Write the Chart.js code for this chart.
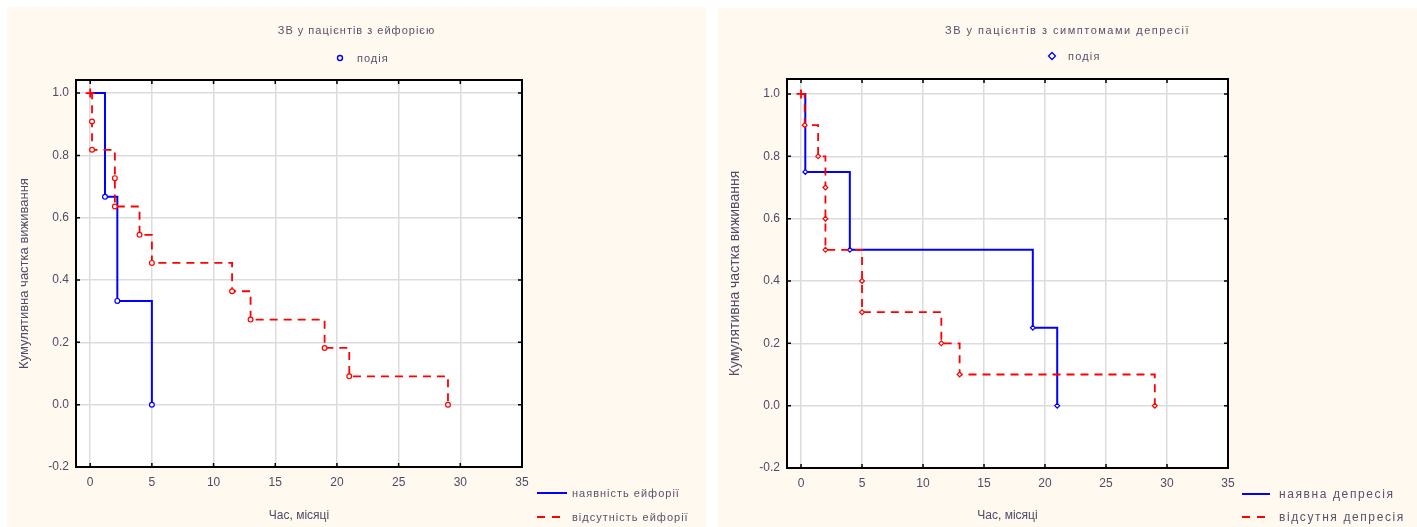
<!DOCTYPE html>
<html>
<head>
<meta charset="utf-8">
<script src="https://cdn.jsdelivr.net/npm/chart.js@4.4.1/dist/chart.umd.min.js"></script>
<style>
  body { margin: 0; background: #fff; width: 1417px; height: 527px; overflow: hidden;
         font-family: "Liberation Sans", Arial, sans-serif; }
  .panel { position: absolute; background: #fff9ef; }
  .panel canvas { position: absolute; left: 0; top: 0; }
  .txt { position: absolute; color: #55526a; white-space: nowrap; line-height: 14px; }
  .center { left: 0; right: 0; text-align: center; }
  .key { position: absolute; display: flex; align-items: center; }
  .key svg { display: block; }
</style>
</head>
<body>

<div class="panel" id="panelLeft" style="left:7px; top:7px; width:699px; height:520px;">
  <canvas id="chartLeft" width="699" height="520"></canvas>
  <div class="txt center" id="titleLeft" style="top:16px; font-size:11px; letter-spacing:1px;"></div>
  <div class="key" style="left:328px; top:44px;">
    <svg width="10" height="10"><circle cx="5" cy="5" r="2.5" fill="#fff" stroke="#0000ff" stroke-width="1.4"/></svg>
    <span class="txt" id="eventLeft" style="position:static; margin-left:12px; font-size:11px; letter-spacing:1px;"></span>
  </div>
  <div class="key" style="left:530px; top:479px;">
    <svg width="30" height="4"><line x1="0" y1="2" x2="30" y2="2" stroke="#0000ff" stroke-width="2"/></svg>
    <span class="txt" id="legLeft0" style="position:static; margin-left:5px; font-size:11px; letter-spacing:1px;"></span>
  </div>
  <div class="key" style="left:530px; top:503px;">
    <svg width="30" height="4"><line x1="0" y1="2" x2="30" y2="2" stroke="#ff0000" stroke-width="2" stroke-dasharray="8 7"/></svg>
    <span class="txt" id="legLeft1" style="position:static; margin-left:5px; font-size:11px; letter-spacing:1px;"></span>
  </div>
</div>

<div class="panel" id="panelRight" style="left:718px; top:8px; width:699px; height:519px;">
  <canvas id="chartRight" width="699" height="519"></canvas>
  <div class="txt center" id="titleRight" style="top:15px; font-size:11px; letter-spacing:1.5px;"></div>
  <div class="key" style="left:329px; top:41px;">
    <svg width="10" height="10"><polygon points="5,1.5 8.5,5 5,8.5 1.5,5" fill="#fff" stroke="#0000ff" stroke-width="1.3"/></svg>
    <span class="txt" id="eventRight" style="position:static; margin-left:11px; font-size:11px; letter-spacing:1.2px;"></span>
  </div>
  <div class="key" style="left:524px; top:479px;">
    <svg width="28" height="4"><line x1="0" y1="2" x2="28" y2="2" stroke="#0000ff" stroke-width="2"/></svg>
    <span class="txt" id="legRight0" style="position:static; margin-left:9px; font-size:12px; letter-spacing:1.6px;"></span>
  </div>
  <div class="key" style="left:524px; top:502px;">
    <svg width="28" height="4"><line x1="0" y1="2" x2="28" y2="2" stroke="#ff0000" stroke-width="2" stroke-dasharray="8 7"/></svg>
    <span class="txt" id="legRight1" style="position:static; margin-left:9px; font-size:12px; letter-spacing:1.6px;"></span>
  </div>
</div>

<script>
// axis ticks shared by both plots
const xTicks = [0, 5, 10, 15, 20, 25, 30, 35];
const yTicks = [-0.2, 0.0, 0.2, 0.4, 0.6, 0.8, 1.0];

const xTitle = "Час, місяці";
const yTitle = "Кумулятивна частка виживання";
const eventLabel = "подія";

// survival: euphoria present / absent
const titleLeft = "ЗВ у пацієнтів з ейфорією";
const seriesLeft = ["наявність ейфорії", "відсутність ейфорії"];
const euphYesMonths = [0, 1.2, 2.2, 5];
const euphYesSurv = [1.0, 0.667, 0.333, 0.0];
const euphNoMonths = [0, 0.15, 0.15, 2, 2, 4, 5, 11.5, 13, 19, 21, 29];
const euphNoSurv = [1.0, 0.909, 0.818, 0.727, 0.636, 0.545, 0.455, 0.364, 0.273, 0.182, 0.091, 0.0];

// survival: depression symptoms present / absent
const titleRight = "ЗВ у пацієнтів з симптомами депресії";
const seriesRight = ["наявна депресія", "відсутня депресія"];
const deprYesMonths = [0, 0.35, 4, 19, 21];
const deprYesSurv = [1.0, 0.75, 0.5, 0.25, 0.0];
const deprNoMonths = [0, 0.3, 1.4, 2, 2, 2, 5, 5, 11.5, 13, 29];
const deprNoSurv = [1.0, 0.9, 0.8, 0.7, 0.6, 0.5, 0.4, 0.3, 0.2, 0.1, 0.0];

document.getElementById("titleLeft").textContent = titleLeft;
document.getElementById("titleRight").textContent = titleRight;
document.getElementById("eventLeft").textContent = eventLabel;
document.getElementById("eventRight").textContent = eventLabel;
document.getElementById("legLeft0").textContent = seriesLeft[0];
document.getElementById("legLeft1").textContent = seriesLeft[1];
document.getElementById("legRight0").textContent = seriesRight[0];
document.getElementById("legRight1").textContent = seriesRight[1];

const TEXT = "#4e4b66";
const FONT = "'Liberation Sans', Arial, sans-serif";

// white plot area, black frame and short inward tick marks
const plotFrame = {
  id: "plotFrame",
  beforeDraw(chart) {
    const { ctx, chartArea: a } = chart;
    ctx.save();
    ctx.fillStyle = "#ffffff";
    ctx.fillRect(a.left, a.top, a.right - a.left, a.bottom - a.top);
    ctx.restore();
  },
  afterDraw(chart) {
    const { ctx, chartArea: a, scales } = chart;
    ctx.save();
    ctx.strokeStyle = "#000";
    ctx.lineWidth = 2;
    ctx.strokeRect(a.left, a.top, a.right - a.left, a.bottom - a.top);
    ctx.lineWidth = 1.5;
    ctx.beginPath();
    xTicks.forEach(v => {
      const px = scales.x.getPixelForValue(v);
      ctx.moveTo(px, a.top); ctx.lineTo(px, a.top + 4);
      ctx.moveTo(px, a.bottom); ctx.lineTo(px, a.bottom - 4);
    });
    yTicks.forEach(v => {
      const py = scales.y.getPixelForValue(v);
      ctx.moveTo(a.left, py); ctx.lineTo(a.left + 4, py);
      ctx.moveTo(a.right, py); ctx.lineTo(a.right - 4, py);
    });
    ctx.stroke();
    ctx.restore();
  }
};

function toPoints(months, surv) {
  return months.map((m, i) => ({ x: m, y: surv[i] }));
}

function curve(months, surv, color, dashed, marker) {
  return {
    data: toPoints(months, surv),
    stepped: "before",
    borderColor: color,
    borderWidth: dashed ? 1.8 : 2,
    borderDash: dashed ? [8, 6] : [],
    fill: false,
    pointStyle: ctx => ctx.dataIndex === 0 ? (dashed ? "cross" : false) : marker,
    pointRadius: ctx => ctx.dataIndex === 0 ? 4.5 : 2.4,
    pointBorderWidth: ctx => ctx.dataIndex === 0 ? 1.8 : 1.2,
    pointBorderColor: color,
    pointBackgroundColor: "#ffffff",
    order: dashed ? 1 : 2
  };
}

function makeChart(id, datasets, lay) {
  return new Chart(document.getElementById(id), {
    type: "line",
    data: { datasets },
    plugins: [plotFrame],
    options: {
      responsive: false,
      animation: false,
      events: [],
      layout: { padding: { left: lay.left, top: lay.top, right: lay.right, bottom: lay.bottom } },
      plugins: { legend: { display: false }, tooltip: { enabled: false } },
      scales: {
        x: {
          type: "linear",
          min: -1.15,
          max: 35,
          afterBuildTicks: s => { s.ticks = xTicks.map(v => ({ value: v })); },
          afterFit: s => { s.height = lay.xHeight; },
          grid: { color: "#dcdcdc", lineWidth: 1.5, drawTicks: false },
          border: { display: false },
          ticks: { color: TEXT, font: { family: FONT, size: 12 }, padding: 8, maxRotation: 0 },
          title: { display: true, text: xTitle, color: TEXT, font: { family: FONT, size: 12 }, padding: { top: 4, bottom: 3 } }
        },
        y: {
          type: "linear",
          min: -0.2,
          max: lay.yMax,
          afterBuildTicks: s => { s.ticks = yTicks.map(v => ({ value: v })); },
          afterFit: s => { s.width = lay.yWidth; },
          grid: { color: "#dcdcdc", lineWidth: 1.5, drawTicks: false },
          border: { display: false },
          ticks: { color: TEXT, font: { family: FONT, size: 12 }, padding: 7, callback: v => v.toFixed(1) },
          title: { display: true, text: yTitle, color: TEXT, font: { family: FONT, size: lay.yTitleSize }, padding: { top: 3, bottom: 4 } }
        }
      }
    }
  });
}

makeChart("chartLeft", [
  curve(euphYesMonths, euphYesSurv, "#0000ff", false, "circle"),
  curve(euphNoMonths, euphNoSurv, "#ff0000", true, "circle")
], { left: 7, top: 73, right: 184, bottom: 1, yWidth: 62, xHeight: 59, yMax: 1.042, yTitleSize: 13 });

makeChart("chartRight", [
  curve(deprYesMonths, deprYesSurv, "#0000ff", false, "rectRot"),
  curve(deprNoMonths, deprNoSurv, "#ff0000", true, "rectRot")
], { left: 6, top: 71, right: 189, bottom: 1, yWidth: 63, xHeight: 58, yMax: 1.048, yTitleSize: 14 });
</script>
</body>
</html>
